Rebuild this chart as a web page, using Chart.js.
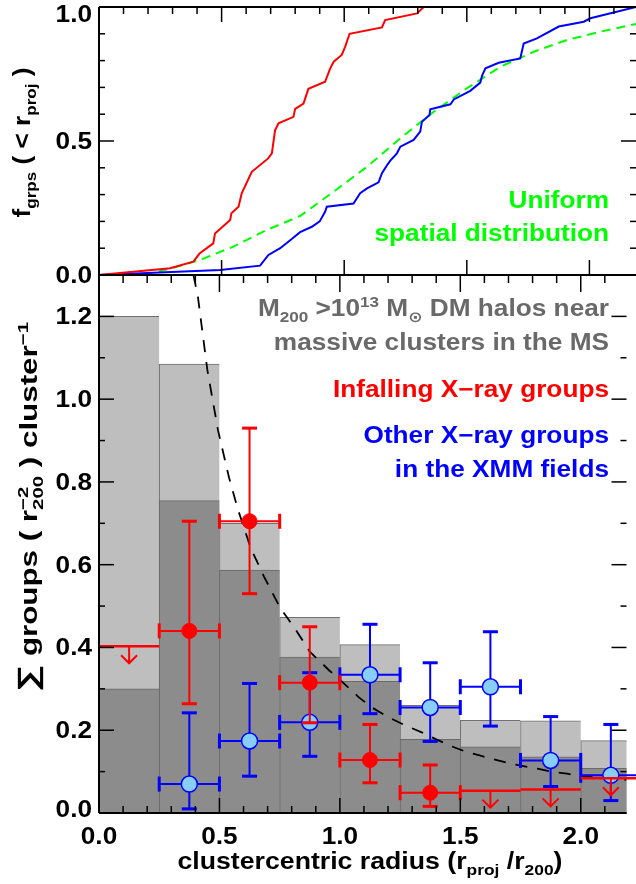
<!DOCTYPE html>
<html>
<head>
<meta charset="utf-8">
<script src="https://cdn.jsdelivr.net/npm/chart.js@4/dist/chart.umd.min.js"></script>
<style>
  html, body { margin: 0; padding: 0; background: #fff; }
  #wrap { position: relative; width: 636px; height: 884px; overflow: hidden; }
  canvas { position: absolute; left: 0; top: 0; }
</style>
</head>
<body>
<div id="wrap">
  <canvas id="bottomPanel" width="636" height="884"></canvas>
  <canvas id="topPanel" width="636" height="290"></canvas>
</div>
<script>
// ---------- top panel: cumulative fraction of groups within r_proj ----------
const infallR = [0, 0.29, 0.385, 0.41, 0.466, 0.473, 0.535, 0.54, 0.569, 0.582, 0.623, 0.69, 0.705, 0.718, 0.732, 0.793, 0.80, 0.834, 0.854, 0.922, 0.943, 0.957, 0.99, 1.004, 1.022, 1.154, 1.167, 1.297, 1.324];
const infallF = [0, 0.025, 0.05, 0.08, 0.118, 0.155, 0.205, 0.23, 0.255, 0.305, 0.385, 0.435, 0.454, 0.54, 0.566, 0.59, 0.62, 0.64, 0.695, 0.721, 0.771, 0.796, 0.821, 0.852, 0.90, 0.924, 0.951, 0.976, 1.0];

const otherR = [0, 0.494, 0.657, 0.691, 0.739, 0.786, 0.82, 0.868, 0.90, 0.922, 0.929, 1.038, 1.065, 1.093, 1.14, 1.154, 1.177, 1.188, 1.215, 1.229, 1.283, 1.31, 1.317, 1.348, 1.351, 1.433, 1.447, 1.514, 1.555, 1.562, 1.576, 1.63, 1.718, 1.732, 1.786, 1.875, 1.977, 2.004, 2.19];
const otherF = [0, 0.019, 0.035, 0.075, 0.10, 0.134, 0.16, 0.18, 0.20, 0.236, 0.255, 0.267, 0.305, 0.323, 0.346, 0.38, 0.413, 0.427, 0.454, 0.479, 0.504, 0.535, 0.572, 0.597, 0.618, 0.637, 0.655, 0.687, 0.718, 0.743, 0.771, 0.792, 0.808, 0.864, 0.883, 0.927, 0.945, 0.958, 1.0];

const uniformR = [0, 0.208, 0.317, 0.412, 0.548, 0.684, 0.82, 0.957, 1.093, 1.229, 1.365, 1.501, 1.637, 1.773, 1.909, 2.045, 2.19];
const uniformF = [0, 0.004, 0.031, 0.056, 0.106, 0.168, 0.22, 0.311, 0.404, 0.51, 0.609, 0.697, 0.777, 0.833, 0.877, 0.908, 0.937];

// ---------- bottom panel: surface density of groups ----------
const binEdges   = [0, 0.25, 0.5, 0.75, 1.0, 1.25, 1.5, 1.75, 2.0, 2.25];
const binCenters = [0.125, 0.375, 0.625, 0.875, 1.125, 1.375, 1.625, 1.875, 2.125];
const haloAll     = [1.2, 1.085, 0.70, 0.473, 0.407, 0.26, 0.224, 0.223, 0.175];
const haloMassive = [0.30, 0.755, 0.587, 0.377, 0.318, 0.178, 0.16, 0.136, 0.108];

const modelR = [0.392, 0.41, 0.45, 0.494, 0.54, 0.576, 0.63, 0.686, 0.751, 0.82, 0.875, 0.955, 1.0, 1.078, 1.13, 1.2, 1.27, 1.34, 1.40, 1.46, 1.514, 1.58, 1.637, 1.698, 1.746, 1.82, 1.868, 1.943, 1.99, 2.1, 2.19];
const modelS = [1.30, 1.25, 1.07, 0.925, 0.81, 0.735, 0.64, 0.57, 0.497, 0.44, 0.39, 0.345, 0.322, 0.28, 0.256, 0.232, 0.212, 0.195, 0.178, 0.162, 0.15, 0.139, 0.13, 0.121, 0.115, 0.107, 0.101, 0.095, 0.09, 0.085, 0.08];

// infalling X-ray groups (detections, bins 2-6)
const infallBin = [1, 2, 3, 4, 5];
const infallS   = [0.44, 0.705, 0.315, 0.128, 0.049];
const infallHi  = [0.705, 0.93, 0.45, 0.214, 0.116];
const infallLo  = [0.264, 0.53, 0.218, 0.073, 0.016];
// infalling X-ray groups (upper limits)
const infallLimBin = [0, 6, 7, 8];
const infallLim    = [0.403, 0.054, 0.057, 0.084];

// other X-ray groups in the XMM fields
const otherBin = [1, 2, 3, 4, 5, 6, 7, 8];
const otherS   = [0.07, 0.174, 0.219, 0.334, 0.255, 0.305, 0.127, 0.091];
const otherHi  = [0.242, 0.313, 0.339, 0.456, 0.363, 0.438, 0.233, 0.214];
const otherLo  = [0.01, 0.089, 0.137, 0.24, 0.173, 0.21, 0.064, 0.03];

// ---------- axes ----------
const X_MAX = 2.19;
const xMajor = [0, 0.5, 1.0, 1.5, 2.0];
const xLabels = ['0.0', '0.5', '1.0', '1.5', '2.0'];
const xMinor = [0.1, 0.2, 0.3, 0.4, 0.6, 0.7, 0.8, 0.9, 1.1, 1.2, 1.3, 1.4, 1.6, 1.7, 1.8, 1.9, 2.1];
const topYMajor = [0, 0.5, 1.0];
const topYLabels = ['0.0', '0.5', '1.0'];
const topYMinor = [0.1, 0.2, 0.3, 0.4, 0.6, 0.7, 0.8, 0.9];
const botYMajor = [0, 0.2, 0.4, 0.6, 0.8, 1.0, 1.2];
const botYLabels = ['0.0', '0.2', '0.4', '0.6', '0.8', '1.0', '1.2'];
const botYMinor = [0.1, 0.3, 0.5, 0.7, 0.9, 1.1];

const RED = '#ff0000', BLUE = '#0000ff', GREEN = '#00ff00', GREY_TEXT = '#696969';

// ---------- text helpers (bold Helvetica-like, with sub/superscripts) ----------
const FAMILY = '"Liberation Sans", Arial, Helvetica, "DejaVu Sans", sans-serif';
const TEXT_PX = 23, SMALL_PX = 15, STRETCH = 1.14;
const SUB_DY = 6, SUP_DY = -9;
const fontOf = px => `bold ${px}px ${FAMILY}`;

function segWidth(ctx, s) {
  if (s.up !== undefined) {
    ctx.font = fontOf(SMALL_PX);
    return Math.max(ctx.measureText(s.up).width, ctx.measureText(s.down).width);
  }
  ctx.font = fontOf(s.k ? SMALL_PX : (s.px || TEXT_PX));
  return ctx.measureText(s.t).width;
}

function drawRich(ctx, segs, x, y, opt) {
  const o = Object.assign({ align: 'left', color: '#000', rotate: false, fit: null }, opt);
  ctx.save();
  ctx.translate(x, y);
  if (o.rotate) ctx.rotate(-Math.PI / 2);
  const widths = segs.map(s => segWidth(ctx, s));
  const total = widths.reduce((a, b) => a + b, 0);
  ctx.scale(o.fit ? o.fit / total : STRETCH, 1);
  let cx = o.align === 'right' ? -total : o.align === 'center' ? -total / 2 : 0;
  ctx.fillStyle = o.color;
  ctx.textAlign = 'left';
  ctx.textBaseline = 'alphabetic';
  segs.forEach((s, i) => {
    if (s.up !== undefined) {
      ctx.font = fontOf(SMALL_PX);
      ctx.fillText(s.up, cx, SUP_DY);
      ctx.fillText(s.down, cx, SUB_DY);
    } else {
      ctx.font = fontOf(s.k ? SMALL_PX : (s.px || TEXT_PX));
      ctx.fillText(s.t, cx, s.k === 'sub' ? SUB_DY : s.k === 'sup' ? SUP_DY : 0);
    }
    cx += widths[i];
  });
  ctx.restore();
}

function line(ctx, x1, y1, x2, y2) {
  ctx.beginPath(); ctx.moveTo(x1, y1); ctx.lineTo(x2, y2); ctx.stroke();
}

// y tick labels, kept inside the picture at its top and bottom
function yLabels(ctx, yScale, values, labels) {
  values.forEach((v, i) => {
    const base = Math.min(Math.max(yScale.getPixelForValue(v) + 8, 22), 817);
    drawRich(ctx, [{ t: labels[i] }], 92, base, { align: 'right' });
  });
}

// inward tick marks on one side of a panel
function ticks(ctx, scale, values, side, len, a) {
  values.forEach(v => {
    const p = scale.getPixelForValue(v);
    if (side === 'top') line(ctx, p, a.top, p, a.top + len);
    if (side === 'bottom') line(ctx, p, a.bottom, p, a.bottom - len);
    if (side === 'left') line(ctx, a.left, p, a.left + len, p);
    if (side === 'right') line(ctx, a.right, p, a.right - len, p);
  });
}

const pts = (xs, ys) => xs.map((x, i) => ({ x, y: ys[i] }));

// ---------- top panel ----------
const topFrame = {
  id: 'topFrame',
  afterDraw(chart) {
    const { ctx, chartArea: a, scales: { x, y } } = chart;
    ctx.save();
    ctx.strokeStyle = '#000';
    ctx.lineWidth = 2;
    line(ctx, a.left, a.top, a.left, a.bottom);
    line(ctx, a.left, a.top, a.right, a.top);
    line(ctx, a.left, a.bottom, a.right, a.bottom);
    ctx.lineWidth = 1.5;
    ticks(ctx, x, xMajor, 'top', 15, a);
    ticks(ctx, x, xMinor, 'top', 7, a);
    ticks(ctx, x, xMajor, 'bottom', 15, a);
    ticks(ctx, y, topYMajor, 'left', 15, a);
    ticks(ctx, y, topYMinor, 'left', 6, a);
    ticks(ctx, y, topYMajor, 'right', 15, a);
    ticks(ctx, y, topYMinor, 'right', 6, a);
    yLabels(ctx, y, topYMajor, topYLabels);
    drawRich(ctx, [{ t: 'f' }, { t: 'grps', k: 'sub' }, { t: ' ( < r' }, { t: 'proj', k: 'sub' }, { t: ' )' }],
      30, 142.5, { align: 'center', rotate: true, fit: 150 });
    drawRich(ctx, [{ t: 'Uniform' }], 609, 208, { align: 'right', color: GREEN });
    drawRich(ctx, [{ t: 'spatial distribution' }], 609, 241, { align: 'right', color: GREEN });
    ctx.restore();
  }
};

new Chart(document.getElementById('topPanel'), {
  type: 'line',
  data: {
    datasets: [
      { label: 'Uniform spatial distribution', data: pts(uniformR, uniformF), borderColor: GREEN, borderWidth: 2, borderDash: [9, 6], pointRadius: 0, order: 3 },
      { label: 'Other X-ray groups', data: pts(otherR, otherF), borderColor: BLUE, borderWidth: 2, pointRadius: 0, order: 2 },
      { label: 'Infalling X-ray groups', data: pts(infallR, infallF), borderColor: RED, borderWidth: 2, pointRadius: 0, order: 1 }
    ]
  },
  options: {
    responsive: false, animation: false, devicePixelRatio: 1, events: [],
    layout: { padding: { left: 99, right: 0, top: 7, bottom: 15 } },
    plugins: { legend: { display: false }, tooltip: { enabled: false } },
    scales: {
      x: { type: 'linear', min: 0, max: X_MAX, display: false },
      y: { type: 'linear', min: 0, max: 1, display: false }
    }
  },
  plugins: [topFrame]
});

// ---------- bottom panel ----------
const CAP = 7.5, ARROW = 17, HEAD = 8;

function errorBars(chart, bins, s, lo, hi, color) {
  const { ctx, scales: { x, y } } = chart;
  ctx.save();
  ctx.strokeStyle = color;
  bins.forEach((b, i) => {
    const xc = x.getPixelForValue(binCenters[b]);
    const x0 = x.getPixelForValue(binEdges[b]);
    const x1 = x.getPixelForValue(binEdges[b + 1]);
    const yc = y.getPixelForValue(s[i]);
    const yl = y.getPixelForValue(lo[i]);
    const yh = y.getPixelForValue(hi[i]);
    ctx.lineWidth = 2;
    line(ctx, x0, yc, x1, yc);
    line(ctx, xc, yl, xc, yh);
    ctx.lineWidth = 3;
    line(ctx, x0, yc - CAP, x0, yc + CAP);
    line(ctx, x1, yc - CAP, x1, yc + CAP);
    line(ctx, xc - CAP, yl, xc + CAP, yl);
    line(ctx, xc - CAP, yh, xc + CAP, yh);
  });
  ctx.restore();
}

function upperLimits(chart, bins, lim, color) {
  const { ctx, scales: { x, y } } = chart;
  ctx.save();
  ctx.strokeStyle = color;
  bins.forEach((b, i) => {
    const xc = x.getPixelForValue(binCenters[b]);
    const x0 = x.getPixelForValue(binEdges[b]);
    const x1 = x.getPixelForValue(binEdges[b + 1]);
    const yv = y.getPixelForValue(lim[i]);
    ctx.lineWidth = 2.5;
    line(ctx, x0, yv, x1, yv);
    ctx.lineWidth = 2;
    line(ctx, xc, yv, xc, yv + ARROW);
    ctx.beginPath();
    ctx.moveTo(xc - HEAD, yv + ARROW - HEAD);
    ctx.lineTo(xc, yv + ARROW);
    ctx.lineTo(xc + HEAD, yv + ARROW - HEAD);
    ctx.stroke();
  });
  ctx.restore();
}

const bottomFrame = {
  id: 'bottomFrame',
  afterDatasetDraw(chart, args) {
    const label = chart.data.datasets[args.index].label;
    if (label === 'model') errorBars(chart, otherBin, otherS, otherLo, otherHi, BLUE);
    if (label === 'other') {
      upperLimits(chart, infallLimBin, infallLim, RED);
      errorBars(chart, infallBin, infallS, infallLo, infallHi, RED);
    }
  },
  afterDraw(chart) {
    const { ctx, chartArea: a, scales: { x, y } } = chart;
    ctx.save();
    ctx.strokeStyle = '#000';
    ctx.lineWidth = 2;
    line(ctx, a.left, a.top, a.left, a.bottom);
    line(ctx, a.left, a.top, a.right, a.top);
    line(ctx, a.left, a.bottom, a.right, a.bottom);
    ctx.lineWidth = 1.5;
    ticks(ctx, x, xMajor, 'top', 17, a);
    ticks(ctx, x, xMinor, 'top', 8, a);
    ticks(ctx, x, xMajor, 'bottom', 15, a);
    ticks(ctx, x, xMinor, 'bottom', 7, a);
    ticks(ctx, y, botYMajor, 'left', 15, a);
    ticks(ctx, y, botYMinor, 'left', 6, a);
    ticks(ctx, y, botYMajor, 'right', 15, a);
    ticks(ctx, y, botYMinor, 'right', 6, a);
    yLabels(ctx, y, botYMajor, botYLabels);
    xMajor.forEach((v, i) => {
      drawRich(ctx, [{ t: xLabels[i] }], x.getPixelForValue(v), 844, { align: 'center' });
    });
    drawRich(ctx, [{ t: 'clustercentric radius (r' }, { t: 'proj', k: 'sub' }, { t: ' /r' }, { t: '200', k: 'sub' }, { t: ')' }],
      370, 869, { align: 'center', fit: 385 });
    drawRich(ctx, [{ t: '\u2211', px: 28 }, { t: ' groups ( r' }, { up: '\u22122', down: '200' }, { t: ' ) cluster' }, { t: '\u22121', k: 'sup' }],
      37, 507, { align: 'center', rotate: true, fit: 370 });

    drawRich(ctx, [{ t: 'M' }, { t: '200', k: 'sub' }, { t: ' >10' }, { t: '13', k: 'sup' }, { t: ' M' }, { t: '\u2299', k: 'sub' }, { t: ' DM halos near' }],
      609, 316, { align: 'right', color: GREY_TEXT });
    drawRich(ctx, [{ t: 'massive clusters in the MS' }], 609, 350, { align: 'right', color: GREY_TEXT });
    drawRich(ctx, [{ t: 'Infalling X\u2212ray groups' }], 609, 397, { align: 'right', color: RED });
    drawRich(ctx, [{ t: 'Other X\u2212ray groups' }], 609, 443, { align: 'right', color: BLUE });
    drawRich(ctx, [{ t: 'in the XMM fields' }], 609, 477, { align: 'right', color: BLUE });
    ctx.restore();
  }
};

new Chart(document.getElementById('bottomPanel'), {
  type: 'bar',
  data: {
    datasets: [
      { label: 'halos', data: pts(binCenters, haloAll), backgroundColor: '#bebebe', borderColor: '#707070',
        borderWidth: { top: 1, left: 1, right: 0, bottom: 0 }, grouped: false, barPercentage: 1, categoryPercentage: 1, order: 6 },
      { label: 'massive halos', data: pts(binCenters, haloMassive), backgroundColor: '#8c8c8c', borderColor: '#6a6a6a',
        borderWidth: { top: 1, left: 1, right: 0, bottom: 0 }, grouped: false, barPercentage: 1, categoryPercentage: 1, order: 5 },
      { type: 'line', label: 'model', data: pts(modelR, modelS), borderColor: '#000', borderWidth: 1.8,
        borderDash: [12, 10], pointRadius: 0, order: 4 },
      { type: 'scatter', label: 'other', data: pts(otherBin.map(b => binCenters[b]), otherS),
        pointRadius: 8, backgroundColor: '#87cefa', borderColor: BLUE, borderWidth: 1.5, order: 2 },
      { type: 'scatter', label: 'infall', data: pts(infallBin.map(b => binCenters[b]), infallS),
        pointRadius: 7.5, backgroundColor: RED, borderColor: RED, borderWidth: 1, order: 1 }
    ]
  },
  options: {
    responsive: false, animation: false, devicePixelRatio: 1, events: [],
    layout: { padding: { left: 99, right: 0, top: 275, bottom: 71 } },
    plugins: { legend: { display: false }, tooltip: { enabled: false } },
    scales: {
      x: { type: 'linear', min: 0, max: X_MAX, offset: false, display: false,
           ticks: { stepSize: 0.25, includeBounds: false } },
      y: { type: 'linear', min: 0, max: 1.3, display: false }
    }
  },
  plugins: [bottomFrame]
});
</script>
</body>
</html>
